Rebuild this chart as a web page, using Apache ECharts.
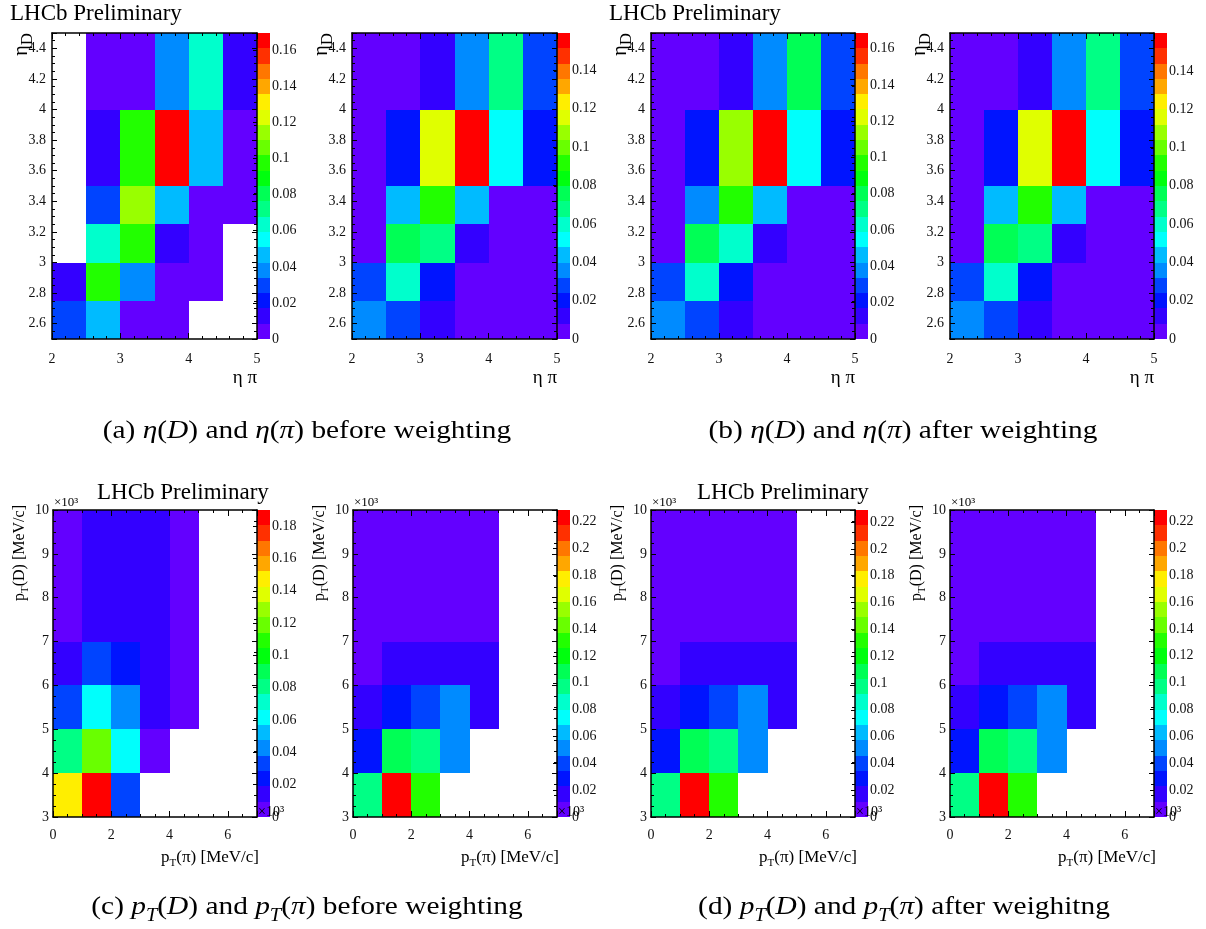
<!DOCTYPE html>
<html>
<head>
<meta charset="utf-8">
<script src="https://cdn.jsdelivr.net/npm/echarts@6/dist/echarts.min.js"></script>
<style>
  html, body { margin: 0; padding: 0; background: #fff; }
  #chart { width: 1206px; height: 929px; }
</style>
</head>
<body>
<div id="chart"></div>
<script>
// ---- Binning -------------------------------------------------------------
const etaPiEdges = [2, 2.5, 3, 3.5, 4, 4.5, 5];
const etaDEdges  = [2.5, 2.75, 3, 3.25, 3.5, 4, 4.5];
const ptPiEdges  = [0, 1, 2, 3, 4, 5];      // x10^3 MeV/c
const ptDEdges   = [3, 4, 5, 6, 7, 10];     // x10^3 MeV/c

// ---- Normalised bin contents (rows: lowest eta(D) / pT(D) bin first; null = empty bin)
const etaBeforeL = [
  [0.029, 0.046, 0.005, 0.004, null,  null ],
  [0.013, 0.097, 0.038, 0.006, 0.003, null ],
  [null,  0.063, 0.096, 0.012, 0.005, null ],
  [null,  0.029, 0.114, 0.047, 0.006, 0.004],
  [null,  0.014, 0.098, 0.1696, 0.046, 0.006],
  [null,  0.007, 0.006, 0.038, 0.063, 0.013]
];
const etaBeforeR = [
  [0.036, 0.028, 0.012, 0.004, 0.003, 0.002],
  [0.028, 0.060, 0.020, 0.005, 0.003, 0.002],
  [0.006, 0.076, 0.068, 0.012, 0.005, 0.003],
  [0.006, 0.044, 0.092, 0.044, 0.006, 0.004],
  [0.006, 0.019, 0.116, 0.1595, 0.052, 0.019],
  [0.005, 0.007, 0.013, 0.036, 0.068, 0.028]
];
const etaAfterL = [
  [0.038, 0.030, 0.012, 0.004, 0.003, 0.002],
  [0.030, 0.063, 0.021, 0.005, 0.003, 0.002],
  [0.006, 0.080, 0.064, 0.012, 0.005, 0.003],
  [0.006, 0.038, 0.097, 0.046, 0.006, 0.004],
  [0.006, 0.021, 0.114, 0.1686, 0.055, 0.021],
  [0.005, 0.007, 0.013, 0.038, 0.080, 0.030]
];
const etaAfterR = [
  [0.036, 0.028, 0.012, 0.004, 0.003, 0.002],
  [0.027, 0.060, 0.020, 0.005, 0.003, 0.002],
  [0.006, 0.076, 0.068, 0.012, 0.005, 0.003],
  [0.006, 0.045, 0.091, 0.045, 0.006, 0.004],
  [0.006, 0.019, 0.117, 0.1598, 0.053, 0.019],
  [0.005, 0.007, 0.013, 0.037, 0.069, 0.028]
];
const ptBeforeL = [
  [0.147, 0.190, 0.033, null,  null ],
  [0.080, 0.118, 0.062, 0.006, null ],
  [0.032, 0.061, 0.042, 0.014, 0.006],
  [0.014, 0.031, 0.023, 0.013, 0.006],
  [0.007, 0.015, 0.015, 0.014, 0.006]
];
const ptBeforeR = [
  [0.097, 0.2287, 0.131, null,  null ],
  [0.029, 0.108, 0.097, 0.052, null ],
  [0.017, 0.028, 0.040, 0.052, 0.016],
  [0.008, 0.016, 0.016, 0.015, 0.015],
  [0.005, 0.006, 0.006, 0.006, 0.005]
];
const ptAfterL = [
  [0.096, 0.2290, 0.130, null,  null ],
  [0.030, 0.109, 0.098, 0.051, null ],
  [0.018, 0.029, 0.041, 0.053, 0.017],
  [0.008, 0.016, 0.017, 0.016, 0.015],
  [0.005, 0.006, 0.006, 0.006, 0.005]
];
const ptAfterR = [
  [0.098, 0.2285, 0.132, null,  null ],
  [0.029, 0.107, 0.096, 0.052, null ],
  [0.017, 0.028, 0.040, 0.051, 0.016],
  [0.008, 0.016, 0.016, 0.016, 0.015],
  [0.005, 0.006, 0.006, 0.006, 0.005]
];

// 20-contour rainbow palette (violet -> red)
const PALETTE = ['#6300FF', '#3300FF', '#0014FF', '#0044FF', '#008BFF', '#00BBFF', '#00FFFC',
  '#00FFCC', '#00FF85', '#00FF55', '#00FF0E', '#22FF00', '#69FF00', '#99FF00', '#E0FF00',
  '#FFEE00', '#FFA700', '#FF7700', '#FF3000', '#FF0000'];

const FONT = '"Liberation Serif", "Times New Roman", serif';

// pad layout: [left, top, width, height] of the frame, colour bar width
const pads = [
  { values: etaBeforeL, kind: 'eta', box: [52, 33, 205, 306], bar: 13 },
  { values: etaBeforeR, kind: 'eta', box: [352, 33, 205, 306], bar: 13 },
  { values: etaAfterL,  kind: 'eta', box: [651, 33, 204, 306], bar: 13 },
  { values: etaAfterR,  kind: 'eta', box: [950, 33, 204, 306], bar: 13 },
  { values: ptBeforeL,  kind: 'pt',  box: [53, 510, 204, 307], bar: 13 },
  { values: ptBeforeR,  kind: 'pt',  box: [353, 510, 204, 307], bar: 13 },
  { values: ptAfterL,   kind: 'pt',  box: [651, 510, 204, 307], bar: 13 },
  { values: ptAfterR,   kind: 'pt',  box: [950, 510, 204, 307], bar: 13 }
];

function renderCell(params, api) {
  const a = api.coord([api.value(0), api.value(2)]);
  const b = api.coord([api.value(1), api.value(3)]);
  const x0 = Math.round(a[0]), x1 = Math.round(b[0]);
  const y0 = Math.round(b[1]), y1 = Math.round(a[1]);
  return {
    type: 'rect',
    shape: { x: x0, y: y0, width: x1 - x0, height: y1 - y0 },
    style: { fill: api.visual('color') }
  };
}

const tickLine = { color: '#000', width: 1 };

function axisSpec(kind, dir) {
  if (kind === 'eta' && dir === 'x') return { min: 2, max: 5, interval: 1, minor: 5, len: 6, margin: 13 };
  if (kind === 'eta' && dir === 'y') return { min: 2.5, max: 4.5, splitNumber: 10, minor: 4, len: 5, margin: 6, hideEnds: true };
  if (kind === 'pt' && dir === 'x') return { min: 0, max: 7, interval: 2, minor: 4, len: 6, margin: 11, hideMax: true };
  return { min: 3, max: 10, interval: 1, minor: 4, len: 5, margin: 4 };
}

function frameAxis(g, spec, position, labels) {
  const ax = {
    type: 'value', gridIndex: g, position: position, z: 5,
    min: spec.min, max: spec.max,
    splitLine: { show: false },
    axisLine: { show: true, onZero: false, lineStyle: { color: '#000', width: 1.5 } },
    axisTick: { show: true, inside: true, length: spec.len, lineStyle: tickLine },
    minorTick: { show: true, splitNumber: spec.minor, length: Math.round(spec.len / 2), lineStyle: tickLine },
    axisLabel: {
      show: labels, color: '#111', fontFamily: FONT, fontSize: 14, margin: spec.margin,
      showMinLabel: spec.hideEnds ? false : true,
      showMaxLabel: (spec.hideEnds || spec.hideMax) ? false : true
    }
  };
  if (spec.interval !== undefined) ax.interval = spec.interval;
  if (spec.splitNumber !== undefined) ax.splitNumber = spec.splitNumber;
  return ax;
}

function text(x, y, str, o) {
  o = o || {};
  const style = {
    text: str, fill: '#000',
    fontFamily: FONT, fontSize: o.fontSize || 14,
    align: o.align || 'left', textAlign: o.align || 'left',
    verticalAlign: 'middle', textVerticalAlign: 'middle'
  };
  if (o.rich) style.rich = o.rich;
  const el = { type: 'text', x: x, y: y, rotation: o.rotation || 0, z: 10, style: style };
  if (o.scaleX) el.scaleX = o.scaleX;
  return el;
}

const option = {
  animation: false,
  backgroundColor: '#fff',
  grid: [], xAxis: [], yAxis: [], series: [], visualMap: [], graphic: []
};

pads.forEach(function (pad) {
  const flat = pad.values.flat().filter(function (v) { return v !== null; });
  const zmax = Math.max.apply(null, flat);
  const band = zmax / 20;
  const xEdges = pad.kind === 'eta' ? etaPiEdges : ptPiEdges;
  const yEdges = pad.kind === 'eta' ? etaDEdges : ptDEdges;
  const [left, top, width, height] = pad.box;

  const g = option.grid.length;
  option.grid.push({ left: left, top: top, width: width, height: height, show: false });
  option.grid.push({ left: left + width, top: top, width: pad.bar, height: height, show: false });

  const xs = axisSpec(pad.kind, 'x');
  const ys = axisSpec(pad.kind, 'y');
  const xi = option.xAxis.length;
  const yi = option.yAxis.length;
  option.xAxis.push(frameAxis(g, xs, 'bottom', true));
  option.xAxis.push(frameAxis(g, xs, 'top', false));
  option.yAxis.push(frameAxis(g, ys, 'left', true));
  option.yAxis.push(frameAxis(g, ys, 'right', false));

  // colour bar axes
  option.xAxis.push({ type: 'value', gridIndex: g + 1, min: 0, max: 1, show: false });
  option.yAxis.push({
    type: 'value', gridIndex: g + 1, position: 'right', min: 0, max: zmax, interval: 0.02, z: 5,
    splitLine: { show: false },
    axisLine: { show: false },
    axisTick: { show: true, inside: true, length: 4, lineStyle: tickLine },
    axisLabel: { color: '#111', fontFamily: FONT, fontSize: 14, margin: 2, showMaxLabel: false }
  });

  const cells = [];
  pad.values.forEach(function (row, r) {
    row.forEach(function (v, c) {
      if (v !== null) cells.push([xEdges[c], xEdges[c + 1], yEdges[r], yEdges[r + 1], v]);
    });
  });
  const bands = PALETTE.map(function (_, k) {
    return [0, 1, k * band, (k + 1) * band, (k + 0.5) * band];
  });

  const s = option.series.length;
  option.series.push({
    type: 'custom', xAxisIndex: xi, yAxisIndex: yi, data: cells,
    encode: { x: [0, 1], y: [2, 3] }, renderItem: renderCell, z: 2
  });
  option.series.push({
    type: 'custom', xAxisIndex: xi + 2, yAxisIndex: yi + 2, data: bands,
    encode: { x: [0, 1], y: [2, 3] }, renderItem: renderCell, z: 2
  });
  option.visualMap.push({
    type: 'piecewise', show: false, seriesIndex: [s, s + 1], dimension: 4,
    pieces: PALETTE.map(function (col, k) {
      return k === 19 ? { gte: k * band, color: col } : { gte: k * band, lt: (k + 1) * band, color: col };
    })
  });

  // axis titles and exponent markers
  if (pad.kind === 'eta') {
    option.graphic.push(text(left - 30, top, '{e|η}{d|D}', {
      align: 'right', rotation: Math.PI / 2,
      rich: {
        e: { fontFamily: FONT, fontSize: 20, lineHeight: 20, verticalAlign: 'top' },
        d: { fontFamily: FONT, fontSize: 17, lineHeight: 17, padding: [7, 0, 0, 0], verticalAlign: 'top' }
      }
    }));
    option.graphic.push(text(left + width, top + height + 39, 'η π', { align: 'right', fontSize: 19 }));
  } else {
    const subY = {
      p: { fontFamily: FONT, fontSize: 16, lineHeight: 17, verticalAlign: 'top' },
      s: { fontFamily: FONT, fontSize: 11, lineHeight: 11, padding: [8, 0, 0, 0], verticalAlign: 'top' }
    };
    const subX = {
      p: { fontFamily: FONT, fontSize: 17, lineHeight: 18, verticalAlign: 'top' },
      s: { fontFamily: FONT, fontSize: 11, lineHeight: 11, padding: [9, 0, 0, 0], verticalAlign: 'top' }
    };
    option.graphic.push(text(left - 33, top - 5, '{p|p}{s|T}{p|(D) [MeV/c]}', {
      align: 'right', rotation: Math.PI / 2, rich: subY
    }));
    option.graphic.push(text(left + width + 2, top + height + 41, '{p|p}{s|T}{p|(π) [MeV/c]}', {
      align: 'right', rich: subX
    }));
    option.graphic.push(text(left + 1, top - 7, '×10³', { fontSize: 13 }));
    option.graphic.push(text(left + width + 1, top + height - 5, '×10³', { fontSize: 14 }));
  }
});

// pad labels
[[10, 14], [609, 14], [97, 493], [697, 493]].forEach(function (p) {
  option.graphic.push(text(p[0], p[1], 'LHCb Preliminary', { fontSize: 23 }));
});

// sub-figure captions
const capRich = {
  r: { fontFamily: FONT, fontSize: 26, lineHeight: 30, verticalAlign: 'top' },
  i: { fontFamily: FONT, fontSize: 26, lineHeight: 30, fontStyle: 'italic', verticalAlign: 'top' },
  s: { fontFamily: FONT, fontSize: 18, lineHeight: 18, fontStyle: 'italic', padding: [13, 0, 0, 0], verticalAlign: 'top' }
};
const captions = [
  [307, 433, '{r|(a) }{i|η}{r|(}{i|D}{r|) and }{i|η}{r|(}{i|π}{r|) before weighting}'],
  [903, 433, '{r|(b) }{i|η}{r|(}{i|D}{r|) and }{i|η}{r|(}{i|π}{r|) after weighting}'],
  [307, 909, '{r|(c) }{i|p}{s|T}{r|(}{i|D}{r|) and }{i|p}{s|T}{r|(}{i|π}{r|) before weighting}'],
  [904, 909, '{r|(d) }{i|p}{s|T}{r|(}{i|D}{r|) and }{i|p}{s|T}{r|(}{i|π}{r|) after weighitng}']
];
captions.forEach(function (c) {
  option.graphic.push(text(c[0], c[1], c[2], { align: 'center', rich: capRich, scaleX: 1.13 }));
});

const chart = echarts.init(document.getElementById('chart'), null, { renderer: 'canvas' });
chart.setOption(option);
</script>
</body>
</html>
